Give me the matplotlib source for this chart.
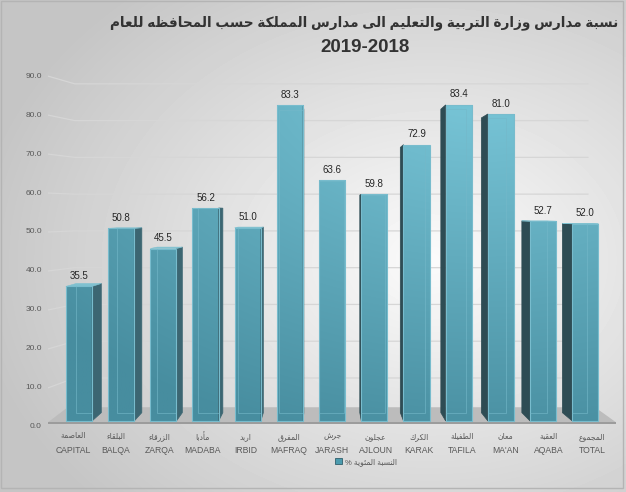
import numpy as np
import matplotlib
matplotlib.use('Agg')
import matplotlib.pyplot as plt
from matplotlib.patches import Polygon, Rectangle, Patch

plt.rcParams['font.family'] = ['Liberation Sans', 'DejaVu Sans']

# ---- data ----
categories_ar = ['العاصمة', 'البلقاء', 'الزرقاء', 'مأدبا', 'اربد', 'المفرق', 'جرش',
                 'عجلون', 'الكرك', 'الطفيلة', 'معان', 'العقبة', 'المجموع']
categories_en = ['CAPITAL', 'BALQA', 'ZARQA', 'MADABA', 'IRBID', 'MAFRAQ', 'JARASH',
                 'AJLOUN', 'KARAK', 'TAFILA', "MA'AN", 'AQABA', 'TOTAL']
values = [35.5, 50.8, 45.5, 56.2, 51.0, 83.3, 63.6, 59.8, 72.9, 83.4, 81.0, 52.7, 52.0]
y_ticks = [0, 10, 20, 30, 40, 50, 60, 70, 80, 90]
title_ar = 'نسبة مدارس وزارة التربية والتعليم الى مدارس المملكة حسب المحافظه للعام'
title_years = '2019-2018'
legend_ar = 'النسبة المئوية %'

# ---- tiny arabic shaper (presentation forms + visual order) ----
_table = [('ء', 0xFE80, 1), ('آ', 0xFE81, 2), ('أ', 0xFE83, 2), ('ؤ', 0xFE85, 2),
          ('إ', 0xFE87, 2), ('ئ', 0xFE89, 4), ('ا', 0xFE8D, 2), ('ب', 0xFE8F, 4),
          ('ة', 0xFE93, 2), ('ت', 0xFE95, 4), ('ث', 0xFE99, 4), ('ج', 0xFE9D, 4),
          ('ح', 0xFEA1, 4), ('خ', 0xFEA5, 4), ('د', 0xFEA9, 2), ('ذ', 0xFEAB, 2),
          ('ر', 0xFEAD, 2), ('ز', 0xFEAF, 2), ('س', 0xFEB1, 4), ('ش', 0xFEB5, 4),
          ('ص', 0xFEB9, 4), ('ض', 0xFEBD, 4), ('ط', 0xFEC1, 4), ('ظ', 0xFEC5, 4),
          ('ع', 0xFEC9, 4), ('غ', 0xFECD, 4), ('ف', 0xFED1, 4), ('ق', 0xFED5, 4),
          ('ك', 0xFED9, 4), ('ل', 0xFEDD, 4), ('م', 0xFEE1, 4), ('ن', 0xFEE5, 4),
          ('ه', 0xFEE9, 4), ('و', 0xFEED, 2), ('ى', 0xFEEF, 2), ('ي', 0xFEF1, 4)]
FORMS = {c: [chr(b + k) for k in range(n)] for c, b, n in _table}
DUAL = {c for c, b, n in _table if n == 4}
LAMALEF = {'آ': ('\uFEF5', '\uFEF6'), 'أ': ('\uFEF7', '\uFEF8'),
           'إ': ('\uFEF9', '\uFEFA'), 'ا': ('\uFEFB', '\uFEFC')}


def shape(s):
    out = []
    i = 0
    while i < len(s):
        ch = s[i]
        if ch not in FORMS:
            out.append(ch)
            i += 1
            continue
        jp = i > 0 and s[i - 1] in DUAL
        if ch == 'ل' and i + 1 < len(s) and s[i + 1] in LAMALEF:
            iso, fin = LAMALEF[s[i + 1]]
            out.append(fin if jp else iso)
            i += 2
            continue
        nxt = s[i + 1] if i + 1 < len(s) else None
        jn = ch in DUAL and nxt in FORMS and nxt != 'ء'
        f = FORMS[ch]
        if len(f) == 1:
            g = f[0]
        elif jp and jn:
            g = f[3]
        elif jp:
            g = f[1]
        elif jn:
            g = f[2]
        else:
            g = f[0]
        out.append(g)
        i += 1
    return ''.join(reversed(out))


# ---- figure + background ----
fig = plt.figure(figsize=(6.26, 4.92), dpi=100)
bg = fig.add_axes([0, 0, 1, 1])
bg.axis('off')
yy, xx = np.mgrid[0:492, 0:626]
dd = np.sqrt(((xx - 430) / 430.) ** 2 + ((yy - 260) / 330.) ** 2)
shade = np.clip(0.985 - 0.2 * dd, 0.77, 1)
bg.imshow(shade, cmap='gray', vmin=0, vmax=1, extent=(0, 626, 492, 0), aspect='auto')
bg.set_xlim(0, 626)
bg.set_ylim(492, 0)
bg.add_patch(Rectangle((1, 1), 622, 487, fill=False, ec='#b4b4b4', lw=1))

ax = fig.add_axes([0.0722, 0.1289, 0.9236, 0.7242])
ax.axis('off')

VX, VY = 5.8, 55.0   # vanishing point (category index, value)
S_BAR = 0.04
S_FLOOR = 0.071
HW = 0.31


def back(x, y, k):
    return VX + (x - VX) * (1 - k), VY + (y - VY) * (1 - k)


# gridlines (back wall with a slanted left part)
for g in y_ticks[1:]:
    yf = VY + (g - VY) * 1.027
    yb = VY + (g - VY) * 0.97
    ax.plot([-0.72, -0.1, 12.06], [yf, yb, yb], color='#d6d6d6', lw=0.9, zorder=1)

for g in y_ticks:
    ax.text(-0.88, VY + (g - VY) * 1.027, f'{g:.1f}', ha='right', va='center',
            fontsize=6, color='#595959')

# floor
fl = [(-0.73, -0.3), (12.72, -0.3), back(12.72, -0.3, S_FLOOR), back(-0.73, -0.3, S_FLOOR)]
ax.add_patch(Polygon(fl, closed=True, fc='#bcbcbc', ec='none', zorder=2))
ax.add_patch(Rectangle((-0.73, -0.9), 13.45, 0.6, fc='#9c9c9c', ec='none', zorder=2))

# colour field for the front faces
xs = np.linspace(-0.8, 12.9, 240)
ys = np.linspace(0, 92, 240)
X, Y = np.meshgrid(xs, ys)
t = np.clip(1.15 - np.sqrt(((X - 9.5) / 12) ** 2 + ((Y - 95) / 90) ** 2), 0, 1)
c0 = np.array([0x47, 0x8d, 0x9f]) / 255
c1 = np.array([0x76, 0xc3, 0xd5]) / 255
field = c0 + (c1 - c0) * t[..., None]

for i, v in enumerate(values):
    x0, x1 = i - HW, i + HW
    front = Rectangle((x0, 0), 2 * HW, v, fc='none', ec='#78bccd', lw=0.8, zorder=5)
    ax.add_patch(front)
    im = ax.imshow(field, extent=(-0.8, 12.9, 0, 92), origin='lower', aspect='auto',
                   zorder=4, interpolation='bilinear')
    im.set_clip_path(front)

    # side face
    xe = x1 if x1 < VX else (x0 if x0 > VX else None)
    if xe is not None:
        bx, byt = back(xe, v, S_BAR)
        _, byb = back(xe, 0, S_BAR)
        col = '#3c6672' if xe < VX else '#2e4c54'
        ax.add_patch(Polygon([(xe, 0), (xe, v), (bx, byt), (bx, byb)],
                             fc=col, ec=col, lw=0.5, zorder=4))
    # top face
    if v < VY:
        pts = [(x0, v), (x1, v), back(x1, v, S_BAR), back(x0, v, S_BAR)]
        ax.add_patch(Polygon(pts, fc='#7fc1d0', ec='#7fc1d0', lw=0.4, zorder=4))
    # hidden back edges seen through the front
    bx0, by0 = back(x0, 0, S_BAR)
    bx1, by1 = back(x1, v, S_BAR)
    ln = Rectangle((bx0, by0), bx1 - bx0, by1 - by0, fill=False, ec='#74b8c9',
                   lw=0.6, alpha=0.7, zorder=5)
    ax.add_patch(ln)
    ln.set_clip_path(front)

    ax.annotate(f'{v:.1f}', (i, v), xytext=(0, 7.5), textcoords='offset points',
                ha='center', va='center', fontsize=7, color='#262626')

# category labels
for i, (ar, en) in enumerate(zip(categories_ar, categories_en)):
    lx = VX + (i - VX) * 1.025
    ax.text(lx, -4.2, shape(ar), ha='center', va='center', fontsize=5.5, color='#595959')
    ax.text(lx, -7.9, en, ha='center', va='center', fontsize=6.2, color='#595959',
            family=['Liberation Sans Narrow', 'Liberation Sans', 'DejaVu Sans'])

ax.set_xlim(-0.8, 12.9)
ax.set_ylim(-2, 92)

# title
fig.text(364 / 626, 1 - 23 / 492, shape(title_ar), ha='center', va='center',
         fontsize=9.8, fontweight='bold', color='#333333')
fig.text(365 / 626, 1 - 47 / 492, title_years, ha='center', va='center',
         fontsize=13.5, fontweight='bold', color='#333333')

# legend
h = Patch(fc='#4b9bae', ec='#2f5f6b', lw=0.6)
fig.legend([h], [shape(legend_ar)], loc='center', bbox_to_anchor=(366 / 626, 1 - 462 / 492),
           frameon=False, prop={'size': 5.5}, handlelength=0.9, handleheight=0.9,
           handletextpad=0.4, labelcolor='#595959')

fig.savefig('out.png', dpi=100)
